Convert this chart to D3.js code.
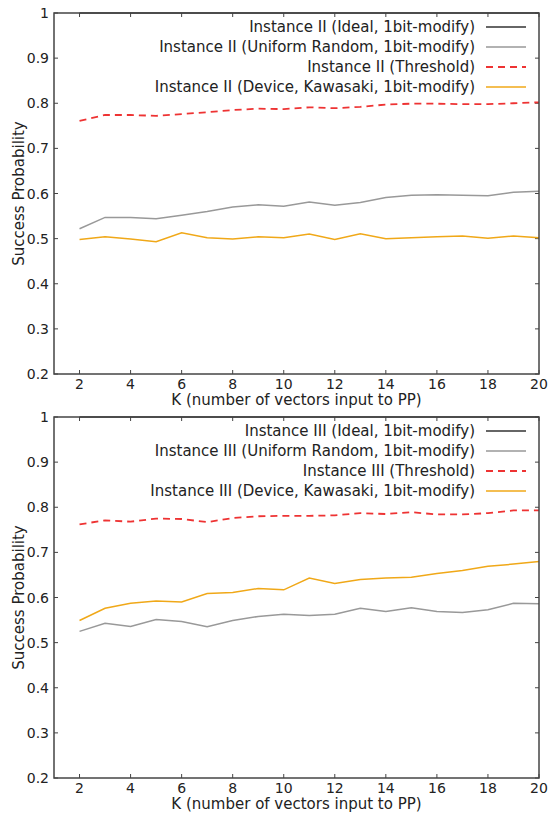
<!DOCTYPE html>
<html>
<head>
<meta charset="utf-8">
<script src="https://cdn.jsdelivr.net/npm/d3@7"></script>
<style>
  body { margin: 0; background: #fff; }
  text { font-family: "DejaVu Sans", sans-serif; fill: #222; }
</style>
</head>
<body>
<div id="vis"></div>
<script>
// K values on the x axis
var kValues = [2, 3, 4, 5, 6, 7, 8, 9, 10, 11, 12, 13, 14, 15, 16, 17, 18, 19, 20];
var xTicks = [2, 4, 6, 8, 10, 12, 14, 16, 18, 20];
var yTicks = [0.2, 0.3, 0.4, 0.5, 0.6, 0.7, 0.8, 0.9, 1];

// Instance II
var ii_ideal = [1, 1, 1, 1, 1, 1, 1, 1, 1, 1, 1, 1, 1, 1, 1, 1, 1, 1, 1];
var ii_uniform = [0.522, 0.547, 0.547, 0.544, 0.552, 0.560, 0.570, 0.575, 0.572, 0.581,
                  0.574, 0.580, 0.591, 0.596, 0.597, 0.596, 0.595, 0.603, 0.605];
var ii_threshold = [0.761, 0.774, 0.774, 0.772, 0.776, 0.780, 0.785, 0.788, 0.787, 0.791,
                    0.789, 0.792, 0.797, 0.799, 0.799, 0.798, 0.798, 0.800, 0.802];
var ii_device = [0.498, 0.504, 0.499, 0.493, 0.513, 0.502, 0.499, 0.504, 0.502, 0.510,
                 0.498, 0.511, 0.500, 0.502, 0.504, 0.506, 0.501, 0.506, 0.502];

// Instance III
var iii_ideal = [1, 1, 1, 1, 1, 1, 1, 1, 1, 1, 1, 1, 1, 1, 1, 1, 1, 1, 1];
var iii_uniform = [0.525, 0.543, 0.536, 0.551, 0.547, 0.535, 0.549, 0.558, 0.563, 0.560,
                   0.563, 0.576, 0.569, 0.577, 0.569, 0.567, 0.573, 0.587, 0.586];
var iii_threshold = [0.762, 0.771, 0.768, 0.775, 0.774, 0.767, 0.776, 0.780, 0.781, 0.781,
                     0.782, 0.787, 0.785, 0.789, 0.784, 0.784, 0.787, 0.793, 0.793];
var iii_device = [0.549, 0.576, 0.587, 0.592, 0.590, 0.609, 0.611, 0.620, 0.617, 0.643,
                  0.631, 0.640, 0.643, 0.645, 0.653, 0.660, 0.669, 0.674, 0.680];

var styles = [
  { color: "#333333", dash: null },
  { color: "#999999", dash: null },
  { color: "#ee3333", dash: "7,5" },
  { color: "#f0a818", dash: null }
];

var width = 560, height = 813;
var svg = d3.select('#vis').append('svg')
  .attr('width', width)
  .attr('height', height);

function drawPanel(box, names, series) {
  var x = d3.scaleLinear().domain([1, 20]).range([box.left, box.right]);
  var y = d3.scaleLinear().domain([0.2, 1]).range([box.bottom, box.top]);
  var g = svg.append('g');
  var tick = 4;

  // ticks (gnuplot style, inward and mirrored)
  xTicks.forEach(function (t) {
    g.append('line').attr('x1', x(t)).attr('x2', x(t))
      .attr('y1', box.bottom).attr('y2', box.bottom - tick)
      .attr('stroke', '#444').attr('stroke-width', 1);
    g.append('line').attr('x1', x(t)).attr('x2', x(t))
      .attr('y1', box.top).attr('y2', box.top + tick)
      .attr('stroke', '#444').attr('stroke-width', 1);
    g.append('text').attr('x', x(t)).attr('y', box.bottom + 15)
      .attr('text-anchor', 'middle').attr('font-size', 14).text(t);
  });
  yTicks.forEach(function (t) {
    g.append('line').attr('x1', box.left).attr('x2', box.left + tick)
      .attr('y1', y(t)).attr('y2', y(t))
      .attr('stroke', '#444').attr('stroke-width', 1);
    g.append('line').attr('x1', box.right).attr('x2', box.right - tick)
      .attr('y1', y(t)).attr('y2', y(t))
      .attr('stroke', '#444').attr('stroke-width', 1);
    g.append('text').attr('x', box.left - 5).attr('y', y(t) + 5)
      .attr('text-anchor', 'end').attr('font-size', 14).text(t);
  });

  var line = d3.line()
    .x(function (d, i) { return x(kValues[i]); })
    .y(function (d) { return y(d); });

  series.forEach(function (s, i) {
    g.append('path').datum(s)
      .attr('d', line)
      .attr('fill', 'none')
      .attr('stroke', styles[i].color)
      .attr('stroke-width', i == 2 ? 1.8 : 1.5)
      .attr('stroke-dasharray', styles[i].dash);
  });

  // frame
  g.append('rect')
    .attr('x', box.left).attr('y', box.top)
    .attr('width', box.right - box.left).attr('height', box.bottom - box.top)
    .attr('fill', 'none').attr('stroke', '#444').attr('stroke-width', 1.5);

  // legend
  names.forEach(function (n, i) {
    var ly = box.top + 14 + i * 20;
    g.append('text').attr('x', box.right - 64).attr('y', ly + 5)
      .attr('text-anchor', 'end').attr('font-size', 15).text(n);
    g.append('line').attr('x1', box.right - 53).attr('x2', box.right - 13)
      .attr('y1', ly).attr('y2', ly)
      .attr('stroke', styles[i].color)
      .attr('stroke-width', i == 2 ? 1.8 : 1.5)
      .attr('stroke-dasharray', styles[i].dash);
  });

  // axis titles
  g.append('text')
    .attr('x', (box.left + box.right) / 2).attr('y', box.bottom + 31)
    .attr('text-anchor', 'middle').attr('font-size', 15)
    .text('K (number of vectors input to PP)');
  g.append('text')
    .attr('transform', 'translate(24,' + ((box.top + box.bottom) / 2) + ') rotate(-90)')
    .attr('text-anchor', 'middle').attr('font-size', 15)
    .text('Success Probability');
}

drawPanel({ left: 54, right: 539, top: 13, bottom: 374 },
  ["Instance II (Ideal, 1bit-modify)",
   "Instance II (Uniform Random, 1bit-modify)",
   "Instance II (Threshold)",
   "Instance II (Device, Kawasaki, 1bit-modify)"],
  [ii_ideal, ii_uniform, ii_threshold, ii_device]);

drawPanel({ left: 54, right: 539, top: 417, bottom: 778 },
  ["Instance III (Ideal, 1bit-modify)",
   "Instance III (Uniform Random, 1bit-modify)",
   "Instance III (Threshold)",
   "Instance III (Device, Kawasaki, 1bit-modify)"],
  [iii_ideal, iii_uniform, iii_threshold, iii_device]);
</script>
</body>
</html>
